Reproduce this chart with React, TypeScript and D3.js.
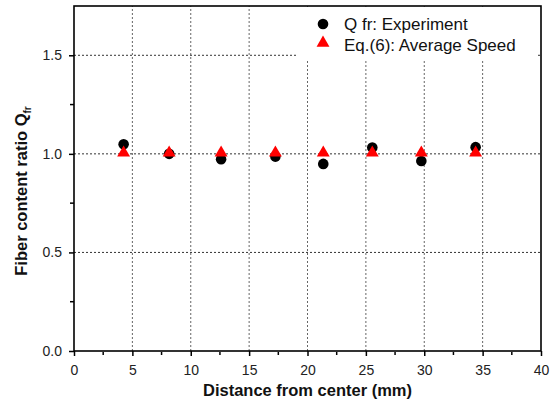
import React, { useEffect, useRef } from "react";
import * as d3 from "d3";

// distance from center (mm)
const distance = [4.25, 8.15, 12.6, 17.25, 21.35, 25.55, 29.75, 34.4];
// Q fr: Experiment
const experiment = [1.049, 1.0, 0.973, 0.986, 0.949, 1.032, 0.964, 1.034];
// Eq.(6): Average Speed
const avgSpeed = [1.0, 1.0, 1.0, 1.0, 1.0, 1.0, 1.0, 1.0];

const xTicks = [0, 5, 10, 15, 20, 25, 30, 35, 40];
const yTicks = [0.0, 0.5, 1.0, 1.5];
const legendLabels = ["Q fr: Experiment", "Eq.(6): Average Speed"];

const W = 557;
const H = 403;
const m = { left: 74, right: 16, top: 6, bottom: 52 };

export default function App() {
  const ref = useRef<SVGSVGElement>(null);

  useEffect(() => {
    const svg = d3.select(ref.current);
    svg.selectAll("*").remove();

    const x = d3.scaleLinear().domain([0, 40]).range([m.left, W - m.right]);
    const y = d3.scaleLinear().domain([0, 1.75]).range([H - m.bottom, m.top]);
    const font = "'Liberation Sans', Arial, sans-serif";

    // grid
    const grid = svg.append("g");
    grid
      .selectAll("line.vx")
      .data(xTicks.slice(1, -1))
      .join("line")
      .attr("x1", (d) => x(d))
      .attr("x2", (d) => x(d))
      .attr("y1", y(0))
      .attr("y2", y(1.75))
      .attr("stroke", "#666")
      .attr("stroke-width", 1)
      .attr("stroke-dasharray", "2,2");
    grid
      .selectAll("line.hy")
      .data(yTicks.slice(1))
      .join("line")
      .attr("x1", x(0))
      .attr("x2", x(40))
      .attr("y1", (d) => y(d))
      .attr("y2", (d) => y(d))
      .attr("stroke", "#333")
      .attr("stroke-width", 1)
      .attr("stroke-dasharray", "2,2");

    // legend background
    svg
      .append("rect")
      .attr("x", 298)
      .attr("y", y(1.75) + 1)
      .attr("width", 240)
      .attr("height", 54)
      .attr("fill", "white");

    // axes
    const xAxis = d3
      .axisBottom(x)
      .tickValues(xTicks)
      .tickFormat(d3.format("d"))
      .tickSize(5)
      .tickPadding(9);
    const gx = svg
      .append("g")
      .attr("transform", `translate(0,${y(0)})`)
      .call(xAxis);
    gx.select(".domain").remove();
    gx.selectAll("line").attr("stroke", "#000").attr("stroke-width", 1.5);
    gx.selectAll("text")
      .attr("font-family", font)
      .attr("font-size", 14)
      .attr("fill", "#222");
    svg
      .append("g")
      .selectAll("line")
      .data(d3.range(2.5, 40, 5))
      .join("line")
      .attr("x1", (d) => x(d))
      .attr("x2", (d) => x(d))
      .attr("y1", y(0) + 1)
      .attr("y2", y(0) + 4)
      .attr("stroke", "#000")
      .attr("stroke-width", 1.5);

    const yAxis = d3
      .axisLeft(y)
      .tickValues(yTicks)
      .tickFormat(d3.format(".1f"))
      .tickSize(5)
      .tickPadding(7);
    const gy = svg
      .append("g")
      .attr("transform", `translate(${x(0)},0)`)
      .call(yAxis);
    gy.select(".domain").remove();
    gy.selectAll("line").attr("stroke", "#000").attr("stroke-width", 1.5);
    gy.selectAll("text")
      .attr("font-family", font)
      .attr("font-size", 14)
      .attr("fill", "#222");
    svg
      .append("g")
      .selectAll("line")
      .data([0.25, 0.75, 1.25])
      .join("line")
      .attr("x1", x(0) - 4)
      .attr("x2", x(0))
      .attr("y1", (d) => y(d))
      .attr("y2", (d) => y(d))
      .attr("stroke", "#000")
      .attr("stroke-width", 1.5);

    // frame
    svg
      .append("rect")
      .attr("x", x(0))
      .attr("y", y(1.75))
      .attr("width", x(40) - x(0))
      .attr("height", y(0) - y(1.75))
      .attr("fill", "none")
      .attr("stroke", "#000")
      .attr("stroke-width", 1.6);

    const tri = d3.symbol().type(d3.symbolTriangle).size(72);

    // experiment points
    svg
      .append("g")
      .selectAll("circle")
      .data(distance)
      .join("circle")
      .attr("cx", (d) => x(d))
      .attr("cy", (d, i) => y(experiment[i]))
      .attr("r", 5.3)
      .attr("fill", "#000");

    // average speed points
    svg
      .append("g")
      .selectAll("path")
      .data(distance)
      .join("path")
      .attr("d", tri)
      .attr("transform", (d, i) => `translate(${x(d)},${y(avgSpeed[i]) - 1})`)
      .attr("fill", "#ff0000");

    // legend
    const lg = svg.append("g");
    lg.append("circle").attr("cx", 323).attr("cy", 24).attr("r", 5.3).attr("fill", "#000");
    lg.append("path")
      .attr("d", tri)
      .attr("transform", "translate(323,43)")
      .attr("fill", "#ff0000");
    lg.selectAll("text")
      .data(legendLabels)
      .join("text")
      .attr("x", 344)
      .attr("y", (d, i) => 30 + i * 21)
      .attr("font-family", font)
      .attr("font-size", 17)
      .attr("fill", "#111")
      .text((d) => d);

    // axis titles
    svg
      .append("text")
      .attr("x", (x(0) + x(40)) / 2)
      .attr("y", 396)
      .attr("text-anchor", "middle")
      .attr("font-family", font)
      .attr("font-size", 16.5)
      .attr("font-weight", "bold")
      .attr("fill", "#111")
      .text("Distance from center (mm)");

    const yt = svg
      .append("text")
      .attr("transform", "translate(27,191) rotate(-90)")
      .attr("text-anchor", "middle")
      .attr("font-family", font)
      .attr("font-size", 16.5)
      .attr("font-weight", "bold")
      .attr("fill", "#111");
    yt.append("tspan").text("Fiber content ratio Q");
    yt.append("tspan").attr("font-size", 10).attr("dy", 4).text("fr");
  }, []);

  return (
    <svg
      ref={ref}
      width={W}
      height={H}
      style={{ position: "absolute", left: 0, top: 0, background: "white" }}
    />
  );
}
